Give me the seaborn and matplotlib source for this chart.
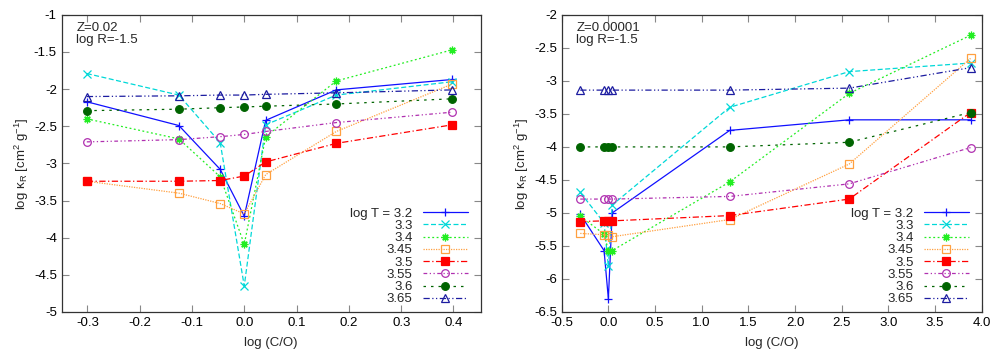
import numpy as np
import matplotlib
matplotlib.use("Agg")
import matplotlib.pyplot as plt
import seaborn as sns

# log T values and legend labels
temps = ["3.2", "3.3", "3.4", "3.45", "3.5", "3.55", "3.6", "3.65"]
labels = ["log T = 3.2"] + temps[1:]

# left panel: Z=0.02
x_left = [-0.301, -0.125, -0.046, 0.0, 0.041, 0.176, 0.398]
y_left = {
    "3.2": [-2.17, -2.49, -3.08, -3.71, -2.42, -2.01, -1.87],
    "3.3": [-1.79, -2.08, -2.72, -4.65, -2.48, -2.08, -1.90],
    "3.4": [-2.40, -2.67, -3.18, -4.09, -2.64, -1.89, -1.47],
    "3.45": [-3.24, -3.40, -3.54, -3.68, -3.15, -2.57, -1.93],
    "3.5": [-3.24, -3.24, -3.23, -3.17, -2.98, -2.73, -2.48],
    "3.55": [-2.71, -2.68, -2.64, -2.61, -2.57, -2.45, -2.31],
    "3.6": [-2.29, -2.27, -2.25, -2.24, -2.23, -2.20, -2.13],
    "3.65": [-2.10, -2.09, -2.08, -2.08, -2.07, -2.05, -2.01],
}

# right panel: Z=0.00001
x_right = [-0.301, -0.046, 0.0, 0.041, 1.30, 2.58, 3.88]
y_right = {
    "3.2": [-5.02, -5.57, -6.30, -5.00, -3.75, -3.59, -3.59],
    "3.3": [-4.69, -5.15, -5.81, -4.88, -3.40, -2.86, -2.73],
    "3.4": [-5.05, -5.32, -5.57, -5.57, -4.53, -3.19, -2.31],
    "3.45": [-5.31, -5.33, -5.34, -5.36, -5.10, -4.26, -2.66],
    "3.5": [-5.13, -5.12, -5.12, -5.12, -5.04, -4.79, -3.48],
    "3.55": [-4.79, -4.79, -4.79, -4.79, -4.75, -4.56, -4.01],
    "3.6": [-4.00, -4.00, -4.00, -4.00, -4.00, -3.93, -3.48],
    "3.65": [-3.14, -3.14, -3.14, -3.14, -3.14, -3.11, -2.80],
}

styles = {
    "3.2": dict(color="#1010ff", ls="-", marker="+", mfc="none"),
    "3.3": dict(color="#00d8d8", ls=(0, (4, 2)), marker="x", mfc="none"),
    "3.4": dict(color="#22ee22", ls=(0, (1.5, 2)), marker=(8, 2, 0), mfc="none"),
    "3.45": dict(color="#ffa040", ls=(0, (1, 1)), marker="s", mfc="none"),
    "3.5": dict(color="#ff0000", ls=(0, (5, 2, 1, 2)), marker="s", mfc="#ff0000"),
    "3.55": dict(color="#b030b0", ls=(0, (3, 2, 1, 2, 1, 2)), marker="o", mfc="none"),
    "3.6": dict(color="#006400", ls=(0, (2, 4)), marker="o", mfc="#006400"),
    "3.65": dict(color="#1c1ca0", ls=(0, (5, 2, 1, 2, 1, 2)), marker="^", mfc="none"),
}

sns.set_style("ticks")
plt.rcParams["font.family"] = ["Liberation Sans", "DejaVu Sans"]
plt.rcParams["mathtext.fontset"] = "custom"
plt.rcParams["mathtext.rm"] = "Liberation Sans"
plt.rcParams["mathtext.it"] = "Liberation Sans:italic"

fig = plt.figure(figsize=(10, 3.5), dpi=100)
ax1 = fig.add_axes([0.0617, 0.1086, 0.419, 0.849])
ax2 = fig.add_axes([0.5617, 0.1086, 0.420, 0.849])


def draw(ax, xs, ys):
    for t, lab in zip(temps, labels):
        st = styles[t]
        sns.lineplot(
            x=xs, y=ys[t], ax=ax, estimator=None, sort=False,
            color=st["color"], linestyle=st["ls"], marker=st["marker"],
            markerfacecolor=st["mfc"], markeredgecolor=st["color"],
            markersize=5.5, markeredgewidth=0.9, linewidth=0.9, label=lab,
        )


draw(ax1, x_left, y_left)
draw(ax2, x_right, y_right)

ax1.set_xlim(-0.349, 0.452)
ax1.set_ylim(-5, -1)
ax1.set_xticks(np.arange(-0.3, 0.41, 0.1))
ax1.set_xticklabels([f"{v:.1f}" for v in np.arange(-0.3, 0.41, 0.1)])
ax1.set_yticks(np.arange(-5, -0.9, 0.5))
ax1.set_yticklabels([f"{v:g}" for v in np.arange(-5, -0.9, 0.5)])

ax2.set_xlim(-0.5, 4.0)
ax2.set_ylim(-6.5, -2)
ax2.set_xticks(np.arange(-0.5, 4.01, 0.5))
ax2.set_xticklabels([f"{v:.1f}" for v in np.arange(-0.5, 4.01, 0.5)])
ax2.set_yticks(np.arange(-6.5, -1.9, 0.5))
ax2.set_yticklabels([f"{v:g}" for v in np.arange(-6.5, -1.9, 0.5)])

for ax, ztxt in [(ax1, "Z=0.02"), (ax2, "Z=0.00001")]:
    ax.tick_params(direction="in", top=True, right=True, length=5, width=0.8,
                   labelsize=9.5, colors="#888888", labelcolor="black")
    for sp in ax.spines.values():
        sp.set_color("#333333")
        sp.set_linewidth(0.9)
    ax.set_xlabel("log (C/O)", fontsize=9.5, labelpad=6)
    ax.set_ylabel(r"log κ$_\mathrm{R}$ [cm$^2$ g$^{-1}$]", fontsize=9.5, labelpad=2)
    ax.text(0.035, 0.975, ztxt + "\nlog R=-1.5", transform=ax.transAxes,
            ha="left", va="top", fontsize=9.5, linespacing=1.0)
    ax.legend(loc="lower right", bbox_to_anchor=(0.985, 0.0), frameon=False,
              markerfirst=False, fontsize=9.5, labelspacing=0.0,
              handlelength=3.4, handletextpad=0.8, borderaxespad=0.3,
              borderpad=0.2)

fig.savefig("out.png", dpi=100)
